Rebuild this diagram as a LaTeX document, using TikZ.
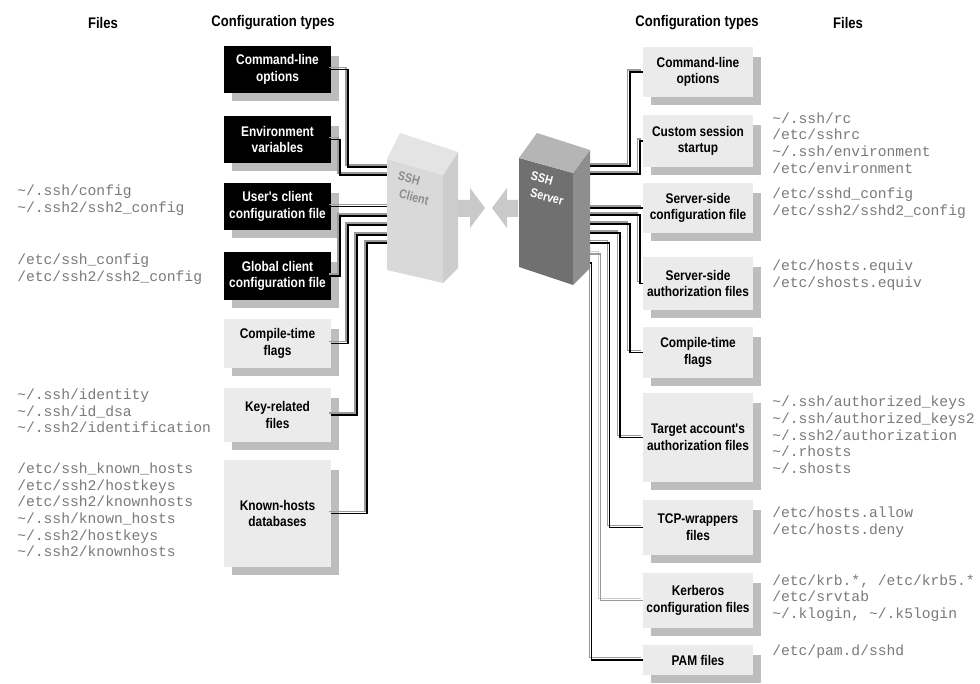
\documentclass[tikz,border=0pt]{standalone}
\usepackage{fontspec}
\setmainfont{Liberation Sans}
\newfontfamily\condfont[FakeStretch=0.85]{Liberation Sans}
\newfontfamily\filefont{Liberation Mono}
\newcommand\tld{\textasciitilde}
\definecolor{boxgray}{HTML}{EBEBEB}
\definecolor{boxshadow}{HTML}{BDBDBD}
\definecolor{filegray}{HTML}{7A7A7A}
\definecolor{wiregray}{HTML}{9A9A9A}
\definecolor{clientfront}{HTML}{D9D9D9}
\definecolor{clientside}{HTML}{CDCDCD}
\definecolor{clienttop}{HTML}{E4E4E4}
\definecolor{serverfront}{HTML}{707070}
\definecolor{serverside}{HTML}{8E8E8E}
\definecolor{servertop}{HTML}{B5B5B5}
\definecolor{arrowgray}{HTML}{C9C9C9}

% one configuration-type box with its drop shadow:
% name, x1, y1, x2, y2, style, label
\newcommand\cfgbox[7]{%
  \fill[boxshadow] (#2+8,#3+10) rectangle (#4+8,#5+8);
  \node[cfg,#6,minimum width={(#4-#2)*0.75pt},minimum height={(#5-#3)*0.75pt}]
    (#1) at ({(#2+#4)/2},{(#3+#5)/2}) {#7};}

\begin{document}
\begin{tikzpicture}[x=0.75pt,y=-0.75pt,
  head/.style={inner sep=0pt,font=\condfont\bfseries\fontsize{11.5}{13}\selectfont},
  cfg/.style={inner sep=0pt,align=center,font=\condfont\bfseries\fontsize{10.5}{12.5}\selectfont},
  darkbox/.style={fill=black,text=white},
  lightbox/.style={fill=boxgray,text=black},
  files/.style={inner sep=0pt,anchor=west,align=left,text=filegray,
    font=\filefont\fontsize{11}{12.5}\selectfont},
  blocklabel/.style={rotate=-15,inner sep=0pt,
    font=\condfont\bfseries\fontsize{9.5}{11}\selectfont},
  wire/.style={draw=black,line width=1.4pt,
    preaction={draw=wiregray,line width=1pt,transform canvas={shift={(-1.6pt,1.6pt)}}}},
  thinwire/.style={draw=black,line width=1pt,
    preaction={draw=wiregray,line width=0.8pt,transform canvas={shift={(-1.6pt,1.6pt)}}}},
  palewire/.style={draw=wiregray,line width=1pt,
    preaction={draw=black!20,line width=0.8pt,transform canvas={shift={(-1.6pt,1.6pt)}}}},
  fatarrow/.style={fill=arrowgray}]

\fill[white] (0,0) rectangle (980,684);
\useasboundingbox (0,0) rectangle (980,684);

% column headings
\node[head] (hfl) at (103,23) {Files};
\node[head] (hcl) at (273,23) {Configuration types};
\node[head] (hcr) at (697,23) {Configuration types};
\node[head] (hfr) at (848,23) {Files};

% client-side configuration types
\cfgbox{L1}{224}{46}{331}{93}{darkbox}{Command-line\\options}
\cfgbox{L2}{224}{116}{331}{163}{darkbox}{Environment\\variables}
\cfgbox{L3}{224}{183}{331}{230}{darkbox}{User's client\\configuration file}
\cfgbox{L4}{224}{252}{331}{300}{darkbox}{Global client\\configuration file}
\cfgbox{L5}{224}{319}{331}{368}{lightbox}{Compile-time\\flags}
\cfgbox{L6}{224}{388}{331}{442}{lightbox}{Key-related\\files}
\cfgbox{L7}{224}{460}{331}{567}{lightbox}{Known-hosts\\databases}

% server-side configuration types
\cfgbox{R1}{643}{47}{753}{97}{lightbox}{Command-line\\options}
\cfgbox{R2}{643}{115}{753}{167}{lightbox}{Custom session\\startup}
\cfgbox{R3}{643}{183}{753}{233}{lightbox}{Server-side\\configuration file}
\cfgbox{R4}{643}{257}{753}{310}{lightbox}{Server-side\\authorization files}
\cfgbox{R5}{643}{327}{753}{378}{lightbox}{Compile-time\\flags}
\cfgbox{R6}{643}{393}{753}{482}{lightbox}{Target account's\\authorization files}
\cfgbox{R7}{643}{500}{753}{555}{lightbox}{TCP-wrappers\\files}
\cfgbox{R8}{643}{573}{753}{628}{lightbox}{Kerberos\\configuration files}
\cfgbox{R9}{643}{645}{753}{675}{lightbox}{PAM files}

% client-side files
\node[files] (FL3) at (17,200.5) {\tld/.ssh/config\\\tld/.ssh2/ssh2\_config};
\node[files] (FL4) at (17,269.5) {/etc/ssh\_config\\/etc/ssh2/ssh2\_config};
\node[files] (FL6) at (17,411) {\tld/.ssh/identity\\\tld/.ssh/id\_dsa\\\tld/.ssh2/identification};
\node[files] (FL7) at (17,510) {/etc/ssh\_known\_hosts\\/etc/ssh2/hostkeys\\/etc/ssh2/knownhosts\\\tld/.ssh/known\_hosts\\\tld/.ssh2/hostkeys\\\tld/.ssh2/knownhosts};

% server-side files
\node[files] (FR2) at (772,143) {\tld/.ssh/rc\\/etc/sshrc\\\tld/.ssh/environment\\/etc/environment};
\node[files] (FR3) at (772,203.5) {/etc/sshd\_config\\/etc/ssh2/sshd2\_config};
\node[files] (FR4) at (772,275) {/etc/hosts.equiv\\/etc/shosts.equiv};
\node[files] (FR6) at (772,435) {\tld/.ssh/authorized\_keys\\\tld/.ssh/authorized\_keys2\\\tld/.ssh2/authorization\\\tld/.rhosts\\\tld/.shosts};
\node[files] (FR7) at (772,522.5) {/etc/hosts.allow\\/etc/hosts.deny};
\node[files] (FR8) at (772,598) {/etc/krb.*, /etc/krb5.*\\/etc/srvtab\\\tld/.klogin, \tld/.k5login};
\node[files] (FR9) at (772,652) {/etc/pam.d/sshd};

% where the wires meet the client and the server
\coordinate (cl1) at (389,167);
\coordinate (cl2) at (389,175);
\coordinate (cl3) at (389,207);
\coordinate (cl4) at (389,216);
\coordinate (cl5) at (389,225);
\coordinate (cl6) at (389,235);
\coordinate (cl7) at (389,243);
\coordinate (sr1) at (587,166);
\coordinate (sr2) at (587,174);
\coordinate (sr3) at (587,208);
\coordinate (sr4) at (587,215);
\coordinate (sr5) at (587,224);
\coordinate (sr6) at (587,233);
\coordinate (sr7) at (587,243);
\coordinate (sr8) at (587,254);
\coordinate (sr9) at (587,263);

% client wires
\draw[wire] (L1.east) -- ++(17,0) |- (cl1);
\draw[wire] (L2.east) -- ++(9,0) |- (cl2);
\draw[wire] (L3.east) -- (L3.east -| cl3);
\draw[wire] (L4.east) -- ++(9,0) |- (cl4);
\draw[wire] (L5.east) -- ++(17,0) |- (cl5);
\draw[wire] (L6.east) -- ++(26,0) |- (cl6);
\draw[wire] (L7.east) -- ++(36,0) |- (cl7);

% server wires
\draw[wire] (R1.west) -- ++(-13,0) |- (sr1);
\draw[wire] (R2.west) -- ++(-3,0) |- (sr2);
\draw[wire] (R3.west) -- (R3.west -| sr3);
\draw[wire] (R4.west) -- ++(-3,0) |- (sr4);
\draw[wire] (R5.west) -- ++(-13,0) |- (sr5);
\draw[wire] (R6.west) -- ++(-23,0) |- (sr6);
\draw[thinwire] (R7.west) -- ++(-33,0) |- (sr7);
\draw[palewire] (R8.west) -- ++(-42,0) |- (sr8);
\draw[thinwire] (R9.west) -- ++(-51,0) |- (sr9);

% SSH client block
\fill[clientfront] (387,159) -- (443,175) -- (443,283) -- (387,270) -- cycle;
\fill[clientside] (443,175) -- (458,152) -- (458,268) -- (443,283) -- cycle;
\fill[clienttop] (387,159) -- (400,133) -- (458,152) -- (443,175) -- cycle;
\node[blocklabel,text=black!45] (clientA) at (409,178) {SSH};
\node[blocklabel,text=black!45] (clientB) at (414,197) {Client};

% SSH server block
\fill[serverfront] (519,158) -- (573,173) -- (573,285) -- (519,267) -- cycle;
\fill[serverside] (573,173) -- (590,150) -- (590,268) -- (573,285) -- cycle;
\fill[servertop] (519,158) -- (537,133) -- (590,150) -- (573,173) -- cycle;
\node[blocklabel,text=white] (serverA) at (542,178) {SSH};
\node[blocklabel,text=white] (serverB) at (547,197) {Server};

% traffic between client and server
\fill[fatarrow] (458,200) -- (470,200) -- (470,188) -- (485,208) -- (470,228) -- (470,217) -- (458,217) -- cycle;
\fill[fatarrow] (518,200) -- (507,200) -- (507,188) -- (492,208) -- (507,228) -- (507,217) -- (518,217) -- cycle;

\end{tikzpicture}
\end{document}
